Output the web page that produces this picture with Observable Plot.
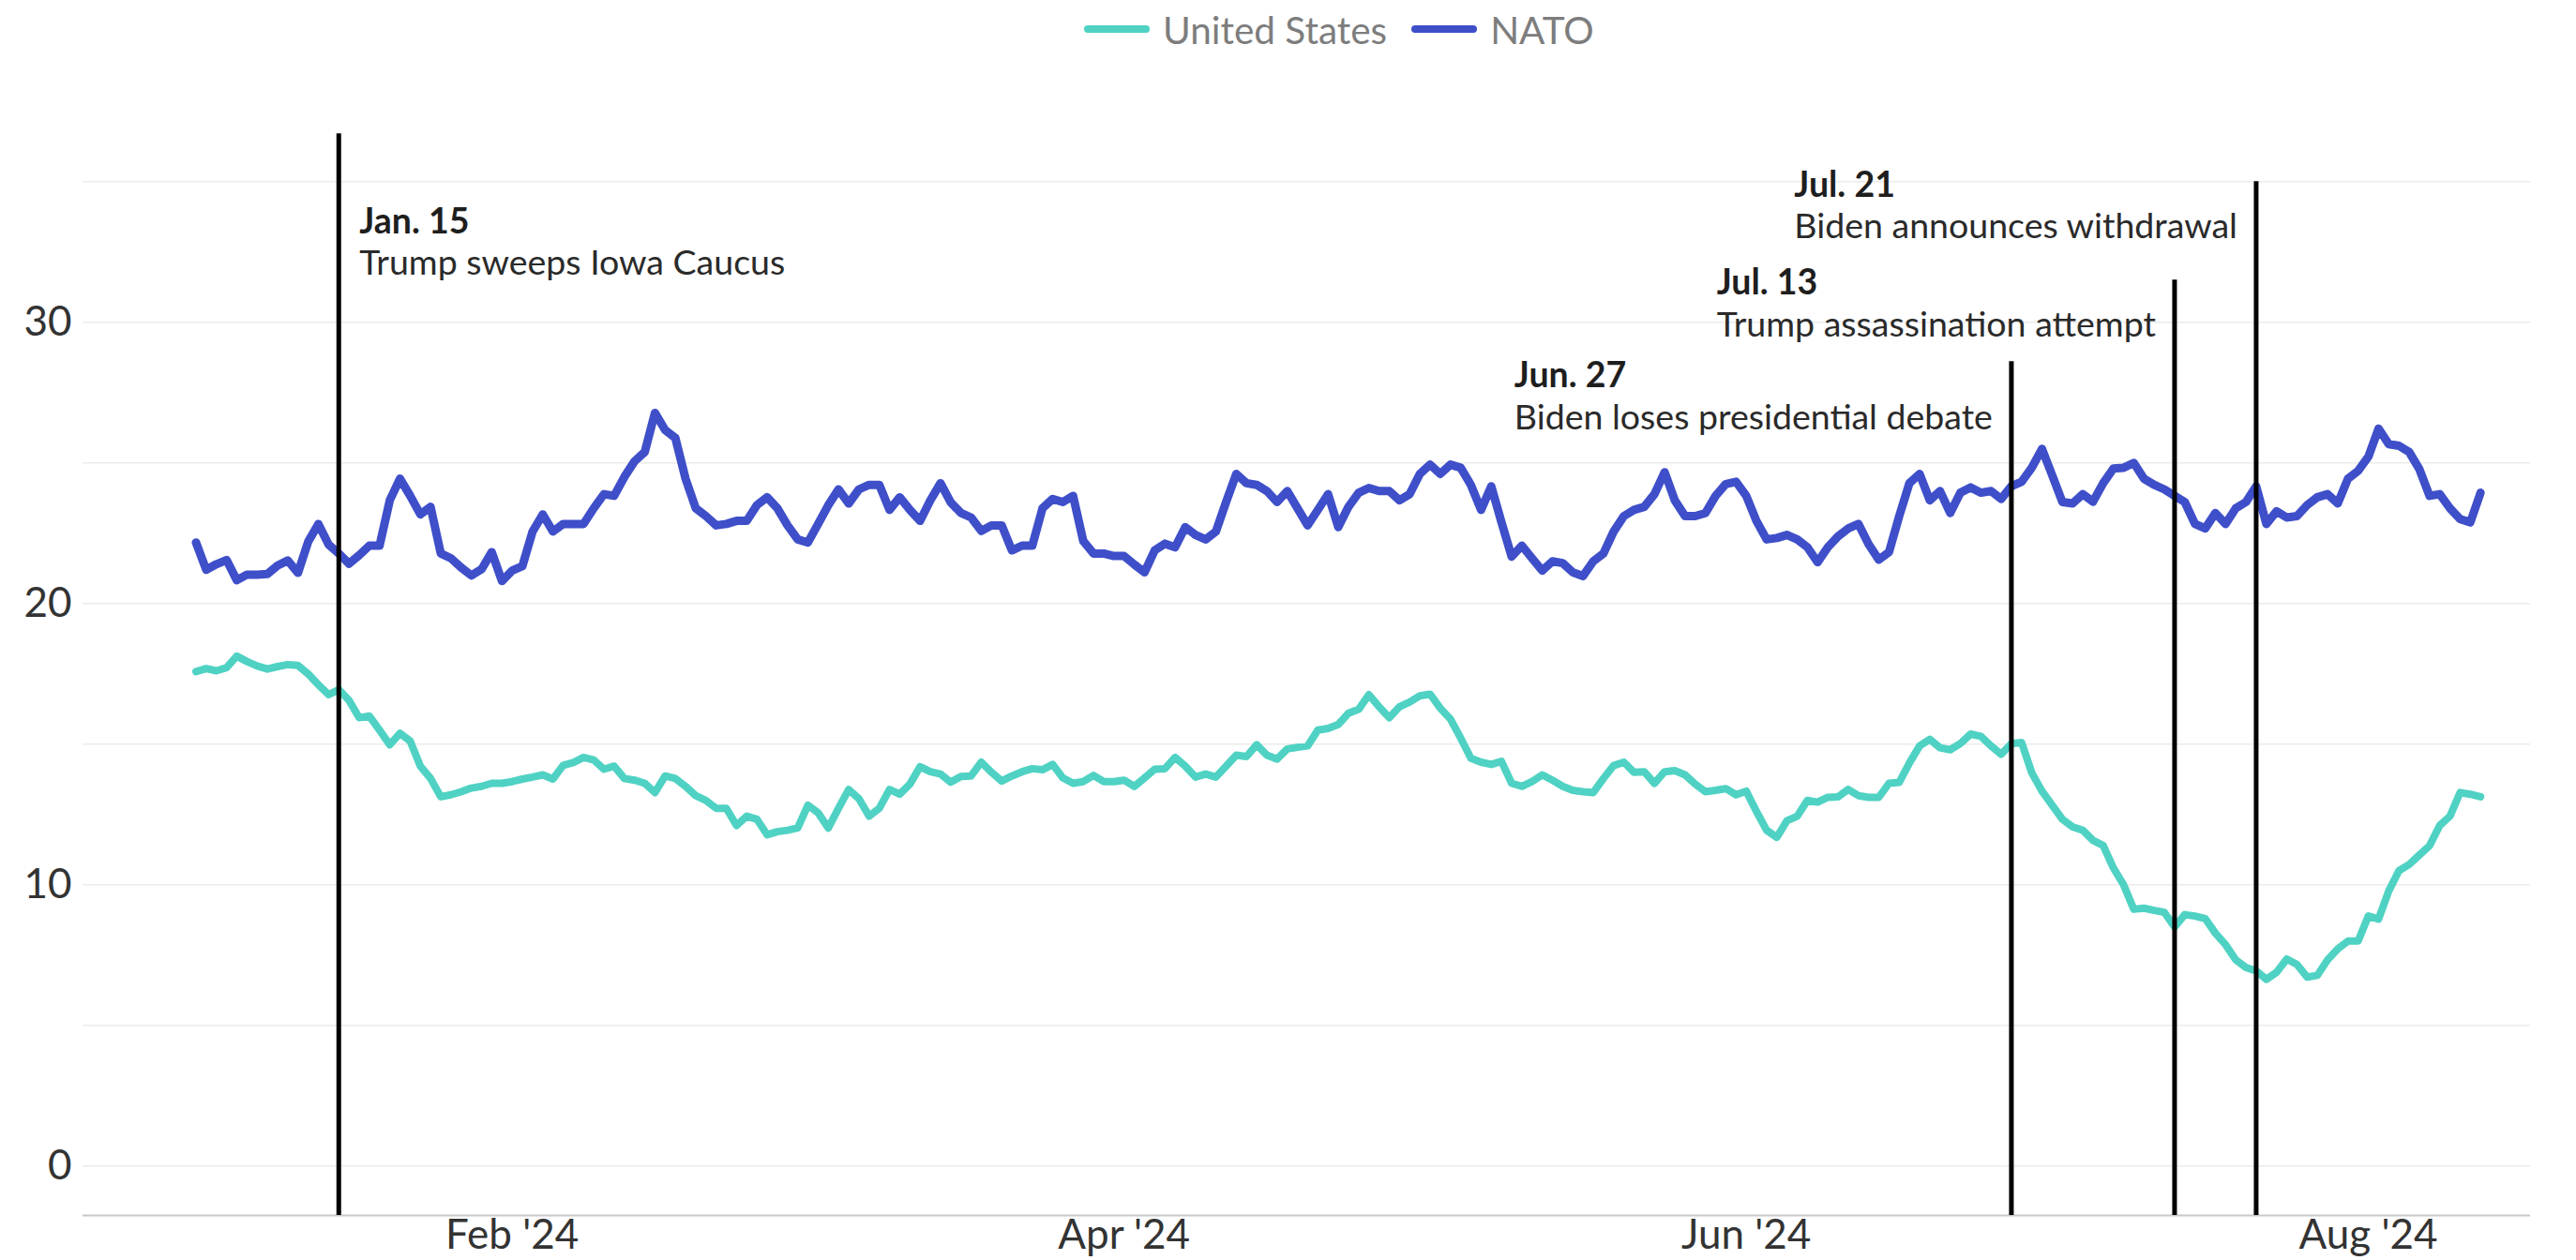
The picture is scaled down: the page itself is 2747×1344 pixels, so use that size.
<!DOCTYPE html>
<html>
<head>
<meta charset="utf-8">
<script src="https://cdn.jsdelivr.net/npm/d3@7"></script>
<script src="https://cdn.jsdelivr.net/npm/@observablehq/plot@0.6"></script>
<style>
  html, body { margin: 0; padding: 0; background: #fff; }
  body { width: 2747px; height: 1344px; overflow: hidden; font-family: Lato, "Noto Sans", sans-serif; }
  #legend { position: relative; height: 70px; }
  #legend .items { position: absolute; left: 1156px; top: 0; height: 62px; display: flex; align-items: center; }
  #legend .item { display: flex; align-items: center; margin-right: 26px; }
  #legend .sw { width: 70px; height: 8px; border-radius: 4px; margin-right: 14px; }
  #legend .lab { font-size: 40.5px; color: #7d7d7d; }
  #chart svg { display: block; }
</style>
</head>
<body>
<div id="legend"><div class="items"></div></div>
<div id="chart"></div>
<script>
// ---------- data ----------
const startDate = "2024-01-01"; // daily values from this date
const seriesNames = ["United States", "NATO"];

const unitedStates = [
  17.58,17.69,17.61,17.72,18.13,17.94,17.78,17.67,17.76,17.83,
  17.8,17.5,17.11,16.76,16.94,16.56,15.94,16.0,15.5,14.98,
  15.39,15.11,14.22,13.78,13.13,13.2,13.31,13.44,13.5,13.61,
  13.61,13.67,13.76,13.83,13.91,13.76,14.25,14.35,
  14.53,14.44,14.11,14.22,13.78,13.72,13.61,13.28,13.87,13.78,
  13.5,13.17,13.0,12.72,12.72,12.11,12.44,12.33,11.78,11.89,
  11.94,12.02,12.83,12.56,12.02,12.72,13.39,13.06,12.44,12.72,
  13.39,13.22,13.58,14.2,14.02,13.94,
  13.65,13.85,13.87,14.36,14.0,13.69,13.87,14.02,14.13,14.09,
  14.28,13.8,13.61,13.67,13.89,13.67,13.67,13.72,13.5,13.8,
  14.11,14.13,14.53,14.22,13.83,13.94,13.83,14.22,14.61,14.56,
  14.98,14.61,14.47,14.83,14.89,14.94,15.5,15.56,
  15.7,16.1,16.24,16.76,16.33,15.94,16.33,16.5,16.72,16.78,
  16.28,15.89,15.22,14.5,14.36,14.28,14.39,13.61,13.5,13.67,
  13.91,13.72,13.5,13.36,13.31,13.28,13.78,14.24,14.36,14.0,
  14.02,13.61,14.02,14.06,13.91,13.58,13.31,13.36,
  13.42,13.2,13.33,12.61,11.94,11.69,12.28,12.44,13.0,12.94,
  13.11,13.13,13.39,13.17,13.11,13.11,13.61,13.64,14.33,14.94,
  15.17,14.87,14.8,15.02,15.36,15.28,14.94,14.64,15.02,15.06,
  13.98,13.33,12.83,12.33,12.06,11.94,11.58,11.4,
  10.6,10.0,9.13,9.17,9.09,9.02,8.5,8.94,8.89,8.8,
  8.28,7.87,7.33,7.06,6.94,6.64,6.89,7.36,7.17,6.72,
  6.78,7.33,7.72,8.0,8.0,8.89,8.78,9.78,10.5,10.72,
  11.06,11.39,12.11,12.44,13.28,13.22,13.13
];

const nato = [
  22.17,21.2,21.4,21.55,20.83,21.03,21.03,21.05,21.35,21.53,
  21.09,22.2,22.83,22.1,21.78,21.42,21.72,22.06,22.06,23.67,
  24.44,23.83,23.17,23.44,21.78,21.61,21.28,21.0,21.22,21.83,
  20.8,21.17,21.33,22.56,23.17,22.56,22.83,22.83,
  22.83,23.39,23.89,23.83,24.5,25.06,25.39,26.78,26.17,25.89,
  24.44,23.39,23.11,22.78,22.83,22.94,22.94,23.5,23.78,23.39,
  22.78,22.28,22.17,22.83,23.5,24.06,23.56,24.06,24.22,24.22,
  23.33,23.78,23.33,22.94,23.67,24.28,
  23.6,23.22,23.06,22.58,22.78,22.78,21.89,22.06,22.06,23.39,
  23.72,23.61,23.83,22.22,21.78,21.78,21.69,21.69,21.39,21.11,
  21.89,22.13,22.0,22.72,22.44,22.28,22.56,23.61,24.61,24.28,
  24.22,24.0,23.61,24.0,23.39,22.78,23.33,23.89,
  22.72,23.44,23.94,24.11,24.0,24.0,23.67,23.89,24.61,24.94,
  24.61,24.94,24.83,24.22,23.33,24.17,22.89,21.67,22.06,21.61,
  21.17,21.5,21.44,21.11,20.98,21.5,21.78,22.56,23.11,23.33,
  23.44,23.89,24.67,23.67,23.11,23.11,23.22,23.83,
  24.25,24.33,23.83,22.94,22.28,22.33,22.44,22.28,22.0,21.47,
  22.0,22.39,22.67,22.83,22.11,21.56,21.83,23.11,24.28,24.61,
  23.67,24.0,23.22,23.94,24.13,23.94,24.0,23.72,24.17,24.33,
  24.83,25.5,24.56,23.61,23.56,23.89,23.62,24.28,
  24.8,24.83,25.0,24.44,24.22,24.06,23.83,23.61,22.83,22.67,
  23.22,22.83,23.39,23.61,24.17,22.83,23.28,23.06,23.11,23.5,
  23.78,23.89,23.56,24.44,24.72,25.22,26.22,25.67,25.61,25.39,
  24.78,23.83,23.89,23.39,23.0,22.89,23.94
];

const eventDates  = ["2024-01-15", "2024-06-27", "2024-07-13", "2024-07-21"];
const eventTitles = ["Jan. 15", "Jun. 27", "Jul. 13", "Jul. 21"];
const eventTexts  = ["Trump sweeps Iowa Caucus", "Biden loses presidential debate", "Trump assassination attempt", "Biden announces withdrawal"];

const yTicks = [0, 10, 20, 30];
const yGrid = [0, 5, 10, 15, 20, 25, 30, 35];
const xTickDates  = ["2024-02-01", "2024-04-01", "2024-06-01", "2024-08-01"];
const xTickLabels = ["Feb '24", "Apr '24", "Jun '24", "Aug '24"];

// ---------- styling / layout (not data) ----------
const colors = { "United States": "#4fd2c3", "NATO": "#3f4fc9" };
const widths = { "United States": 8, "NATO": 9 };
// annotation layout in y-data units: rule top, title line, text line; side of rule
const eventLayout = [
  { topY: 36.7, headY: 33.56, bodyY: 32.1, side: "right" },
  { topY: 28.6, headY: 28.1, bodyY: 26.6, side: "left" },
  { topY: 31.5, headY: 31.4, bodyY: 29.9, side: "left" },
  { topY: 35.0, headY: 34.85, bodyY: 33.4, side: "left" }
];

// ---------- build ----------
const DAY = 864e5;
const t0 = new Date(startDate + "T00:00:00Z");
const dateAt = i => new Date(+t0 + i * DAY);
const parse = s => new Date(s + "T00:00:00Z");

const rows = [];
unitedStates.forEach((v, i) => rows.push({ date: dateAt(i), value: v, series: "United States" }));
nato.forEach((v, i) => rows.push({ date: dateAt(i), value: v, series: "NATO" }));

const events = eventDates.map((d, i) => ({ date: parse(d), head: eventTitles[i], body: eventTexts[i], ...eventLayout[i] }));
const evR = events.filter(e => e.side === "right");
const evL = events.filter(e => e.side === "left");

const yMin = -1.757, yMax = 36.71;
const xTicks = xTickDates.map(parse);

// legend
const items = document.querySelector("#legend .items");
seriesNames.forEach(n => {
  const it = document.createElement("div"); it.className = "item";
  const sw = document.createElement("div"); sw.className = "sw"; sw.style.background = colors[n];
  const lb = document.createElement("div"); lb.className = "lab"; lb.textContent = n;
  it.append(sw, lb); items.append(it);
});

const annFont = 37.5;
const chart = Plot.plot({
  width: 2747,
  height: 1274,
  marginLeft: 88,
  marginRight: 49,
  marginTop: 72,
  marginBottom: 48,
  style: { fontFamily: "Lato, 'Noto Sans', sans-serif", background: "#fff", overflow: "visible" },
  x: { type: "utc", domain: [new Date(+t0 - 11.08 * DAY), new Date(+t0 + 228.9 * DAY)] },
  y: { domain: [yMin, yMax] },
  marks: [
    Plot.ruleY(yGrid, { stroke: "#ebebeb", strokeWidth: 1.5 }),
    Plot.ruleY([yMin], { stroke: "#c8c8c8", strokeWidth: 2 }),
    Plot.axisY(yTicks, { tickSize: 0, tickPadding: 12, fontSize: 44, fill: "#333", label: null }),
    Plot.axisX(xTicks, {
      tickSize: 0, tickPadding: 4, fontSize: 44, fill: "#333", label: null,
      tickFormat: d => xTickLabels[xTicks.findIndex(t => +t === +d)]
    }),
    Plot.lineY(rows.filter(r => r.series === "United States"), {
      x: "date", y: "value", stroke: colors["United States"], strokeWidth: widths["United States"],
      strokeLinejoin: "round", strokeLinecap: "round"
    }),
    Plot.lineY(rows.filter(r => r.series === "NATO"), {
      x: "date", y: "value", stroke: colors["NATO"], strokeWidth: widths["NATO"],
      strokeLinejoin: "round", strokeLinecap: "round"
    }),
    Plot.ruleX(events, { x: "date", y1: yMin, y2: "topY", stroke: "#000", strokeWidth: 5 }),
    Plot.text(evR, { x: "date", y: "headY", text: "head", textAnchor: "start", dx: 22, fontSize: annFont, fontWeight: "bold", fill: "#1e1e1e" }),
    Plot.text(evR, { x: "date", y: "bodyY", text: "body", textAnchor: "start", dx: 22, fontSize: annFont, fill: "#2a2a2a" }),
    Plot.text(evL, { x: "date", y: "headY", text: "head", textAnchor: "end", dx: -20, fontSize: annFont, fontWeight: "bold", fill: "#1e1e1e", className: "evl-head" }),
    Plot.text(evL, { x: "date", y: "bodyY", text: "body", textAnchor: "end", dx: -20, fontSize: annFont, fill: "#2a2a2a", className: "evl-body" })
  ]
});
document.getElementById("chart").append(chart);

// left-side annotation blocks: align the bold title with the start of its body line
const heads = chart.querySelectorAll("g.evl-head text");
const bodies = chart.querySelectorAll("g.evl-body text");
heads.forEach((h, i) => {
  const b = bodies[i];
  if (!b) return;
  const bb = b.getBBox();
  h.setAttribute("text-anchor", "start");
  h.setAttribute("x", bb.x);
});
</script>
</body>
</html>
